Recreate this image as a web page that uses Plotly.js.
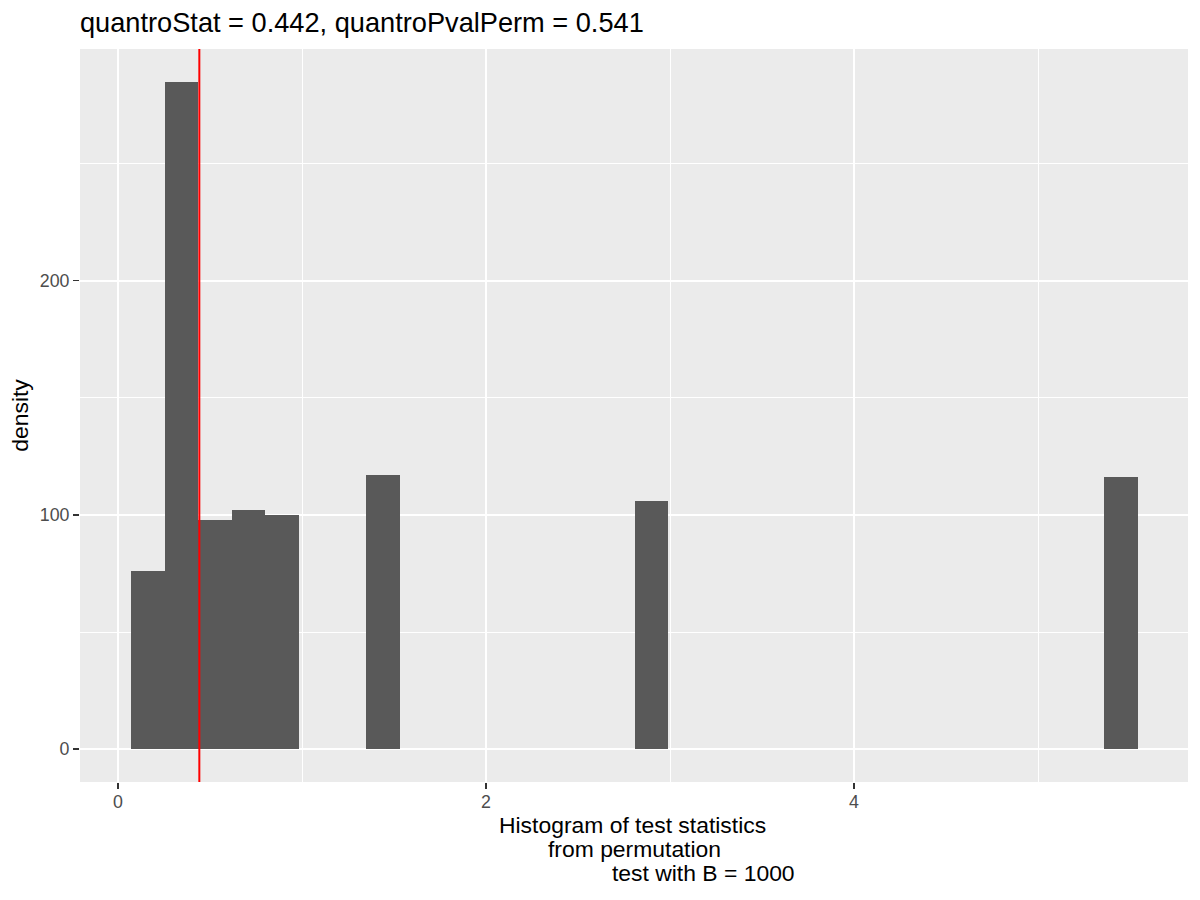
<!DOCTYPE html>
<html>
<head>
<meta charset="utf-8">
<script src="https://cdn.plot.ly/plotly-3.0.1.min.js"></script>
<style>html,body{margin:0;padding:0;background:#fff;}#chart{width:1200px;height:900px;}</style>
</head>
<body>
<div id="chart"></div>
<script>
// Histogram bins (centers) and densities
var binCenters = [0.162, 0.344, 0.527, 0.709, 0.891, 1.439, 2.900, 5.452];
var densities = [76.1, 284.8, 97.8, 102.1, 100.0, 117.0, 105.9, 116.2];
var binWidth = 0.1824;
var quantroStat = 0.442;
var quantroPvalPerm = 0.541;
var xTickVals = [0, 2, 4];
var xTickText = ['0', '2', '4'];
var yTickVals = [0, 100, 200];
var yTickText = ['0', '100', '200'];
var xTitleLines = ['Histogram of test statistics', 'from permutation', 'test with B = 1000'];

var FONT = 'Liberation Sans, Arial, sans-serif';

var trace = {
  type: 'bar',
  x: binCenters,
  y: densities,
  width: binCenters.map(function(){ return binWidth; }),
  marker: {color: '#595959', line: {width: 0}},
  hoverinfo: 'x+y'
};

// x-axis title lines positioned like the reference (plot area: l=80, r=12, t=49, b=118)
var L = 80, R = 12, T = 49, B = 118, W = 1200, H = 900;
var pw = W - L - R, ph = H - T - B;
var lineCentersPx = [632.5, 634, 703];
var lineMidYPx = [825, 849, 873.5];
var annotations = xTitleLines.map(function(t, i){
  return {
    text: t, showarrow: false, xref: 'paper', yref: 'paper',
    x: (lineCentersPx[i] - L) / pw, y: (H - B - lineMidYPx[i]) / ph,
    xanchor: 'center', yanchor: 'middle',
    font: {family: FONT, size: 22.9, color: '#000000'}
  };
});

var layout = {
  width: W, height: H,
  margin: {l: L, r: R, t: T, b: B, pad: 0},
  paper_bgcolor: '#ffffff',
  plot_bgcolor: '#EBEBEB',
  showlegend: false,
  bargap: 0,
  title: {
    text: 'quantroStat = ' + quantroStat + ', quantroPvalPerm = ' + quantroPvalPerm,
    font: {family: FONT, size: 27.2, color: '#000000'},
    xref: 'paper', x: 0, xanchor: 'left',
    yref: 'container', y: 1 - 13.3 / H, yanchor: 'top'
  },
  xaxis: {
    range: [-0.2065, 5.815],
    tickmode: 'array', tickvals: xTickVals, ticktext: xTickText,
    showgrid: true, gridcolor: '#FFFFFF', gridwidth: 2,
    minor: {dtick: 1, tick0: 0, showgrid: true, gridcolor: '#FFFFFF', gridwidth: 1, ticklen: 0},
    zeroline: false, showline: false,
    ticks: 'outside', ticklen: 6, tickwidth: 1.6, tickcolor: '#333333',
    ticklabelstandoff: -2,
    tickfont: {family: FONT, size: 17.8, color: '#4D4D4D'},
    fixedrange: true
  },
  yaxis: {
    range: [-14.0, 298.8],
    tickmode: 'array', tickvals: yTickVals, ticktext: yTickText,
    showgrid: true, gridcolor: '#FFFFFF', gridwidth: 2,
    minor: {dtick: 50, tick0: 0, showgrid: true, gridcolor: '#FFFFFF', gridwidth: 1, ticklen: 0},
    zeroline: false, showline: false,
    ticks: 'outside', ticklen: 6, tickwidth: 1.6, tickcolor: '#333333',
    tickfont: {family: FONT, size: 17.8, color: '#4D4D4D'},
    title: {text: 'density', font: {family: FONT, size: 22.9, color: '#000000'}, standoff: 4},
    automargin: false,
    fixedrange: true
  },
  shapes: [{
    type: 'line', xref: 'x', yref: 'paper',
    x0: quantroStat, x1: quantroStat, y0: 0, y1: 1,
    line: {color: '#FF0000', width: 2}
  }],
  annotations: annotations
};

Plotly.newPlot('chart', [trace], layout, {displayModeBar: false, staticPlot: true});
</script>
</body>
</html>
